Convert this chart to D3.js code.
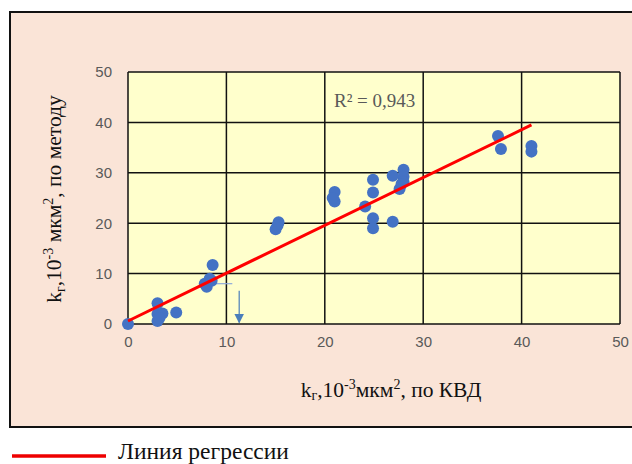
<!DOCTYPE html>
<html>
<head>
<meta charset="utf-8">
<script src="https://cdn.jsdelivr.net/npm/d3@7"></script>
<style>
  body { margin: 0; background: #fff; }
  svg { display: block; }
</style>
</head>
<body>
<div id="chart"></div>
<script>
// points: permeability by pressure build-up (x) vs by method (y)
const kvd = [0, 3.0, 3.0, 3.5, 3.0, 3.2, 4.9,
  8.6, 8.3, 7.8, 8.0, 8.5,
  15.0, 15.3, 15.2,
  21.0, 21.0, 20.8, 24.1,
  24.9, 24.9, 24.9, 24.9, 26.9, 26.9,
  28.0, 28.0, 28.0, 27.6, 27.8,
  37.6, 37.9, 41.0, 41.0];
const method = [0, 4.1, 2.0, 2.1, 0.6, 1.2, 2.3,
  11.7, 9.0, 8.0, 7.4, 8.6,
  18.8, 20.2, 19.6,
  26.2, 24.3, 25.0, 23.3,
  28.6, 26.1, 21.0, 19.0, 20.3, 29.4,
  30.6, 29.2, 28.2, 26.8, 27.8,
  37.3, 34.7, 35.3, 34.2];

// regression line ends
const trendX = [0, 41];
const trendY = [0.6, 39.5];

// little annotation (thin line + arrow)
const noteX = [8.8, 10.6];
const noteY = [8, 8];
const arrowX = [11.3, 11.3];
const arrowY = [6.6, 0.3];

const xTicks = [0, 10, 20, 30, 40, 50];
const yTicks = [0, 10, 20, 30, 40, 50];

const width = 632, height = 464;
const plot = { left: 128, right: 620, top: 72, bottom: 324 };

const svg = d3.select("#chart").append("svg")
  .attr("width", width)
  .attr("height", height);

// outer chart frame
svg.append("rect")
  .attr("x", 10).attr("y", 12)
  .attr("width", 640).attr("height", 415)
  .attr("fill", "#fae4d7")
  .attr("stroke", "#111")
  .attr("stroke-width", 2);

const x = d3.scaleLinear().domain([0, 50]).range([plot.left, plot.right]);
const y = d3.scaleLinear().domain([0, 50]).range([plot.bottom, plot.top]);

// plot area
svg.append("rect")
  .attr("x", plot.left).attr("y", plot.top)
  .attr("width", plot.right - plot.left)
  .attr("height", plot.bottom - plot.top)
  .attr("fill", "#ffffcc");

// grid
const grid = svg.append("g").attr("stroke", "#111").attr("stroke-width", 1.5);
grid.selectAll(".vg").data(xTicks).enter().append("line")
  .attr("x1", d => x(d)).attr("x2", d => x(d))
  .attr("y1", plot.top).attr("y2", plot.bottom);
grid.selectAll(".hg").data(yTicks).enter().append("line")
  .attr("y1", d => y(d)).attr("y2", d => y(d))
  .attr("x1", plot.left).attr("x2", plot.right);

// axes (labels only)
const xAxis = d3.axisBottom(x).tickValues(xTicks).tickSize(0).tickPadding(0);
const yAxis = d3.axisLeft(y).tickValues(yTicks).tickSize(0).tickPadding(0);

const xg = svg.append("g").attr("transform", `translate(0, ${plot.bottom + 18})`).call(xAxis);
const yg = svg.append("g").attr("transform", `translate(${plot.left - 16}, 0)`).call(yAxis);
[xg, yg].forEach(g => {
  g.select(".domain").remove();
  g.selectAll("text")
    .attr("font-family", "Liberation Sans, Arial, sans-serif")
    .attr("font-size", 15)
    .attr("fill", "#595959");
});
xg.selectAll("text").attr("dy", "0.35em");

// annotation
svg.append("line")
  .attr("x1", x(noteX[0])).attr("x2", x(noteX[1]))
  .attr("y1", y(noteY[0])).attr("y2", y(noteY[1]))
  .attr("stroke", "#8eaadb").attr("stroke-width", 1.2);
svg.append("defs").append("marker")
  .attr("id", "head")
  .attr("viewBox", "0 0 10 10")
  .attr("refX", 9).attr("refY", 5)
  .attr("markerWidth", 8).attr("markerHeight", 8)
  .attr("orient", "auto")
  .append("path").attr("d", "M0,0L10,5L0,10z").attr("fill", "#4a7ebb");
svg.append("line")
  .attr("x1", x(arrowX[0])).attr("x2", x(arrowX[1]))
  .attr("y1", y(arrowY[0])).attr("y2", y(arrowY[1]))
  .attr("stroke", "#4a7ebb").attr("stroke-width", 1.2)
  .attr("marker-end", "url(#head)");

// points
svg.append("g").selectAll("circle")
  .data(kvd.map((d, i) => ({ x: d, y: method[i] })))
  .enter().append("circle")
  .attr("cx", d => x(d.x))
  .attr("cy", d => y(d.y))
  .attr("r", 6)
  .attr("fill", "#4472c4");

// regression line
svg.append("line")
  .attr("x1", x(trendX[0])).attr("y1", y(trendY[0]))
  .attr("x2", x(trendX[1])).attr("y2", y(trendY[1]))
  .attr("stroke", "#ff0000").attr("stroke-width", 3);

// R² label
svg.append("text")
  .attr("x", 334).attr("y", 107)
  .attr("font-family", "Liberation Serif, Times New Roman, serif")
  .attr("font-size", 19)
  .attr("fill", "#595959")
  .text("R² = 0,943");

// axis titles
const serif = "Liberation Serif, Times New Roman, serif";
const xt = svg.append("text")
  .attr("x", 391).attr("y", 397)
  .attr("text-anchor", "middle")
  .attr("font-family", serif).attr("font-size", 21.5).attr("fill", "#111");
xt.append("tspan").text("k");
xt.append("tspan").attr("font-size", 14).attr("dy", 3).text("г");
xt.append("tspan").attr("dy", -3).text(",10");
xt.append("tspan").attr("font-size", 14).attr("dy", -8).text("-3");
xt.append("tspan").attr("dy", 8).text("мкм");
xt.append("tspan").attr("font-size", 14).attr("dy", -8).text("2");
xt.append("tspan").attr("dy", 8).text(", по КВД");

const yt = svg.append("text")
  .attr("transform", "translate(61, 199) rotate(-90)")
  .attr("text-anchor", "middle")
  .attr("font-family", serif).attr("font-size", 21.5).attr("fill", "#111");
yt.append("tspan").text("k");
yt.append("tspan").attr("font-size", 14).attr("dy", 4).text("г");
yt.append("tspan").attr("dy", -4).text(",10");
yt.append("tspan").attr("font-size", 14).attr("dy", -8).text("-3");
yt.append("tspan").attr("dy", 8).text(" мкм");
yt.append("tspan").attr("font-size", 14).attr("dy", -8).text("2");
yt.append("tspan").attr("dy", 8).text(",  по методу");

// legend
svg.append("line")
  .attr("x1", 12).attr("x2", 106)
  .attr("y1", 456).attr("y2", 456)
  .attr("stroke", "#ee0000").attr("stroke-width", 3.5);
svg.append("text")
  .attr("x", 118).attr("y", 459)
  .attr("font-family", serif).attr("font-size", 23.5).attr("fill", "#111")
  .text("Линия регрессии");
</script>
</body>
</html>
